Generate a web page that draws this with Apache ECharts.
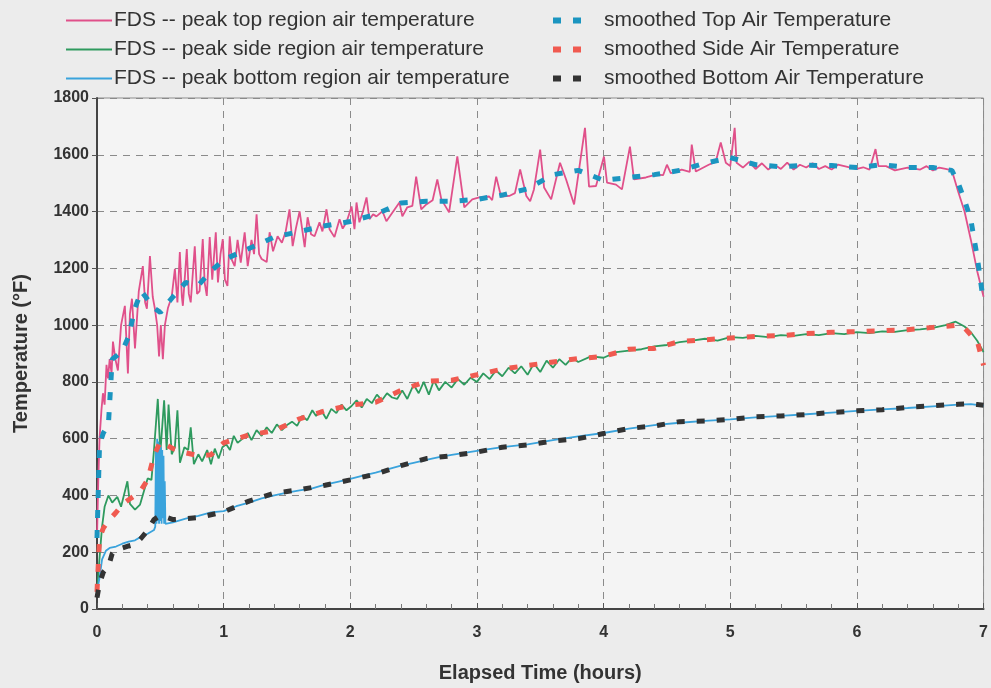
<!DOCTYPE html>
<html>
<head>
<meta charset="utf-8">
<script src="https://cdn.jsdelivr.net/npm/echarts@6/dist/echarts.min.js"></script>
<style>
html,body{margin:0;padding:0;background:#ececec;}
#chart{width:991px;height:688px;}
</style>
</head>
<body>
<div id="chart"></div>
<script>
// ---- Data (hours, °F) ----
const xTicks = [0, 1, 2, 3, 4, 5, 6, 7];
const yTicks = [0, 200, 400, 600, 800, 1000, 1200, 1400, 1600, 1800];

const topHours = [0.000,0.010,0.020,0.035,0.047,0.060,0.075,0.087,0.100,0.115,0.126,0.145,0.165,0.190,0.220,0.244,0.260,0.276,0.300,0.330,0.362,0.380,0.394,0.418,0.440,0.457,0.475,0.490,0.504,0.520,0.536,0.560,0.590,0.615,0.635,0.654,0.670,0.678,0.709,0.725,0.740,0.772,0.790,0.810,0.835,0.850,0.867,0.890,0.910,0.938,0.955,0.975,0.993,1.010,1.030,1.048,1.065,1.087,1.110,1.135,1.166,1.190,1.220,1.240,1.260,1.280,1.300,1.340,1.363,1.390,1.426,1.460,1.490,1.520,1.545,1.570,1.600,1.640,1.663,1.690,1.718,1.757,1.780,1.812,1.836,1.875,1.915,1.940,1.970,2.010,2.033,2.049,2.072,2.100,2.128,2.151,2.180,2.206,2.254,2.285,2.333,2.388,2.411,2.450,2.490,2.520,2.560,2.600,2.650,2.687,2.719,2.780,2.845,2.900,2.963,3.018,3.097,3.120,3.152,3.190,3.255,3.300,3.341,3.390,3.420,3.450,3.499,3.530,3.586,3.656,3.704,3.767,3.853,3.885,3.940,4.003,4.027,4.098,4.145,4.208,4.240,4.334,4.413,4.470,4.500,4.530,4.617,4.680,4.696,4.728,4.830,4.886,4.925,4.965,5.000,5.035,5.050,5.100,5.150,5.200,5.250,5.300,5.350,5.400,5.450,5.500,5.550,5.600,5.650,5.700,5.750,5.800,5.850,5.950,6.000,6.050,6.100,6.147,6.170,6.230,6.300,6.400,6.500,6.550,6.600,6.650,6.700,6.750,6.800,6.850,6.900,6.950,7.000];
const topTemp  = [250,450,600,700,760,720,860,812,880,830,942,880,840,1000,1068,830,1040,1093,918,1120,1208,1080,1058,1243,1100,1058,1000,890,1000,880,1000,1060,1100,1198,1080,1257,1100,1068,1268,1110,1080,1278,1110,1120,1303,1150,1103,1310,1160,1327,1150,1250,1303,1160,1138,1313,1230,1208,1300,1220,1327,1208,1300,1250,1390,1250,1233,1222,1327,1260,1313,1290,1330,1408,1278,1340,1401,1275,1380,1320,1313,1362,1330,1408,1338,1310,1373,1340,1362,1418,1338,1432,1362,1400,1450,1373,1390,1383,1401,1366,1397,1432,1383,1415,1420,1523,1408,1425,1440,1513,1443,1397,1594,1415,1443,1450,1453,1440,1523,1453,1455,1465,1548,1455,1436,1478,1618,1485,1443,1572,1513,1425,1695,1488,1490,1594,1502,1495,1478,1629,1513,1520,1530,1528,1565,1535,1548,1540,1636,1541,1565,1576,1643,1572,1560,1695,1572,1555,1575,1550,1570,1548,1565,1550,1572,1548,1565,1555,1570,1550,1560,1548,1565,1555,1550,1556,1548,1620,1560,1560,1545,1555,1548,1560,1545,1555,1550,1545,1470,1400,1300,1190,1100];

const sideHours = [0.00,0.02,0.04,0.06,0.09,0.12,0.16,0.19,0.24,0.26,0.30,0.34,0.38,0.40,0.43,0.45,0.48,0.50,0.53,0.55,0.565,0.59,0.615,0.635,0.655,0.69,0.72,0.74,0.765,0.80,0.83,0.87,0.90,0.93,0.96,0.99,1.02,1.05,1.08,1.11,1.15,1.19,1.22,1.26,1.30,1.34,1.38,1.42,1.46,1.50,1.54,1.58,1.62,1.66,1.70,1.73,1.77,1.81,1.85,1.89,1.93,1.97,2.01,2.05,2.09,2.13,2.17,2.21,2.25,2.29,2.33,2.37,2.41,2.45,2.50,2.54,2.58,2.62,2.66,2.70,2.75,2.80,2.85,2.90,2.95,3.00,3.05,3.10,3.15,3.20,3.25,3.30,3.35,3.40,3.45,3.50,3.55,3.60,3.65,3.70,3.75,3.80,3.90,4.00,4.10,4.20,4.30,4.40,4.50,4.60,4.70,4.80,4.90,5.00,5.10,5.20,5.30,5.40,5.50,5.60,5.70,5.80,5.90,6.00,6.10,6.20,6.30,6.40,6.50,6.60,6.70,6.78,6.85,6.90,6.95,7.00];
const sideTemp  = [60,180,290,360,400,375,395,360,450,370,350,368,430,460,455,560,740,550,735,560,720,545,570,700,515,570,560,640,510,545,520,560,510,565,530,570,580,560,610,585,600,620,595,630,610,640,620,650,630,648,660,645,680,665,700,680,700,670,705,690,720,700,715,735,710,740,725,755,735,760,745,740,770,740,790,760,800,755,805,770,800,780,810,790,815,800,830,810,840,820,850,830,855,825,865,835,875,850,880,860,885,870,890,885,905,910,915,925,930,940,945,952,945,958,955,962,958,965,962,968,965,972,968,975,972,978,976,982,985,990,1000,1012,995,975,945,905];

const bottomHours = [0.00,0.02,0.04,0.07,0.10,0.15,0.20,0.25,0.30,0.35,0.40,0.45,0.46,0.465,0.47,0.475,0.48,0.485,0.49,0.495,0.50,0.505,0.51,0.515,0.52,0.525,0.53,0.535,0.54,0.55,0.60,0.70,0.80,0.90,1.00,1.10,1.20,1.30,1.40,1.50,1.60,1.70,1.80,1.90,2.00,2.10,2.20,2.30,2.40,2.50,2.60,2.70,2.80,2.90,3.00,3.20,3.40,3.60,3.80,4.00,4.20,4.40,4.60,4.80,5.00,5.20,5.40,5.60,5.80,6.00,6.20,6.40,6.60,6.80,6.90,7.00];
const bottomTemp  = [60,110,175,205,215,220,230,237,242,255,265,278,290,560,300,600,310,590,300,580,310,570,300,560,320,540,300,450,300,295,305,318,328,340,345,362,375,390,400,410,418,425,438,448,458,470,480,493,505,515,525,535,543,550,557,570,580,595,608,620,635,648,656,663,668,675,680,686,692,698,703,708,714,720,722,716];

const smoothHours  = [0,0.02,0.05,0.09,0.12,0.15,0.2,0.25,0.3,0.35,0.4,0.45,0.5,0.6,0.7,0.8,0.9,1.0,1.2,1.4,1.6,1.8,2.0,2.2,2.4,2.6,2.8,3.0,3.2,3.4,3.6,3.8,4.0,4.2,4.4,4.6,4.8,5.0,5.2,5.4,5.6,5.8,6.0,6.2,6.4,6.6,6.75,6.8,6.85,6.9,6.95,7.0];
const smoothTop    = [250,580,620,650,880,890,910,960,1060,1120,1090,1060,1045,1100,1150,1140,1190,1230,1270,1310,1330,1350,1365,1390,1430,1436,1436,1443,1458,1480,1530,1545,1510,1520,1530,1545,1570,1590,1565,1558,1563,1562,1555,1565,1555,1555,1545,1500,1440,1370,1240,1080];
const smoothSide   = [60,250,285,310,325,340,368,385,400,420,455,540,590,565,550,540,543,585,613,628,670,698,718,728,770,802,806,825,845,858,870,882,890,915,918,942,948,955,960,963,970,975,977,980,984,992,998,1000,990,965,945,858];
const smoothBottom = [40,90,130,150,195,210,215,222,228,250,277,315,330,315,318,322,332,342,380,408,420,436,455,475,505,530,540,553,570,578,592,600,618,636,645,660,662,668,677,680,685,692,698,702,710,716,720,721,722,722,720,718];

const seriesNames = [
  'FDS -- peak top region air temperature',
  'FDS -- peak side region air temperature',
  'FDS -- peak bottom region air temperature',
  'smoothed Top Air Temperature',
  'smoothed Side Air Temperature',
  'smoothed Bottom Air Temperature'
];

const pair = (xs, ys) => xs.map((x, i) => [x, ys[i]]);
const FONT = '"Liberation Sans", Arial, sans-serif';

const rawSeries = (name, xs, ys, color) => ({
  name, type: 'line', symbol: 'none', data: pair(xs, ys),
  lineStyle: { color, width: 1.8 }, itemStyle: { color }, z: 2
});
const smoothSeries = (name, xs, ys, color) => ({
  name, type: 'line', symbol: 'none', data: pair(xs, ys),
  lineStyle: { color, width: 5, type: [8, 12] }, itemStyle: { color }, z: 3
});

const chart = echarts.init(document.getElementById('chart'));
chart.setOption({
  animation: false,
  backgroundColor: '#ececec',
  textStyle: { fontFamily: FONT },
  grid: {
    left: 97, right: 6, top: 98, bottom: 76,
    show: true, backgroundColor: '#f4f4f4', borderColor: '#8c8c8c', borderWidth: 1
  },
  legend: [
    {
      data: seriesNames.slice(0, 3), orient: 'vertical', left: 61, top: 5,
      icon: 'path://M0,0h46v2h-46z',
      itemWidth: 46, itemHeight: 2, itemGap: 8,
      textStyle: { fontSize: 21, color: '#333', fontFamily: FONT, lineHeight: 21, padding: [0, 0, 0, -3] }
    },
    {
      data: seriesNames.slice(3), orient: 'vertical', left: 548, top: 5,
      icon: 'path://M0,0h8v6h-8z M20,0h8v6h-8z',
      itemWidth: 28, itemHeight: 6, itemGap: 8,
      textStyle: { fontSize: 21, color: '#333', fontFamily: FONT, lineHeight: 21, padding: [0, 0, 0, 18] }
    }
  ],
  xAxis: {
    type: 'value', min: xTicks[0], max: xTicks[xTicks.length - 1], interval: 1,
    name: 'Elapsed Time (hours)', nameLocation: 'middle', nameGap: 54,
    nameTextStyle: { fontSize: 20, fontWeight: 'bold', color: '#333', fontFamily: FONT },
    axisLine: { lineStyle: { color: '#444', width: 2 } },
    axisTick: { inside: true, length: 6, lineStyle: { color: '#555' } },
    minorTick: { show: true, splitNumber: 5, length: 5, lineStyle: { color: '#777' } },
    axisLabel: { fontSize: 16, fontWeight: 'bold', color: '#333', margin: 16, fontFamily: FONT,
      formatter: v => String(v) },
    splitLine: { show: true, lineStyle: { color: '#8a8a8a', type: [7, 6], width: 1 } }
  },
  yAxis: {
    type: 'value', min: yTicks[0], max: yTicks[yTicks.length - 1], interval: 200,
    name: 'Temperature (°F)', nameLocation: 'middle', nameGap: 66,
    nameTextStyle: { fontSize: 20, fontWeight: 'bold', color: '#333', fontFamily: FONT },
    axisLine: { show: true, lineStyle: { color: '#444', width: 2 } },
    axisTick: { show: true, inside: false, length: 5, lineStyle: { color: '#555' } },
    axisLabel: { fontSize: 16, fontWeight: 'bold', color: '#333', margin: 8, fontFamily: FONT,
      formatter: v => String(v) },
    splitLine: { show: true, lineStyle: { color: '#8a8a8a', type: [7, 6], width: 1 } }
  },
  series: [
    rawSeries(seriesNames[0], topHours, topTemp, '#e0508a'),
    rawSeries(seriesNames[1], sideHours, sideTemp, '#2e9a5e'),
    rawSeries(seriesNames[2], bottomHours, bottomTemp, '#3aa3dc'),
    smoothSeries(seriesNames[3], smoothHours, smoothTop, '#1b95c0'),
    smoothSeries(seriesNames[4], smoothHours, smoothSide, '#f05a50'),
    smoothSeries(seriesNames[5], smoothHours, smoothBottom, '#333333')
  ]
});
</script>
</body>
</html>
